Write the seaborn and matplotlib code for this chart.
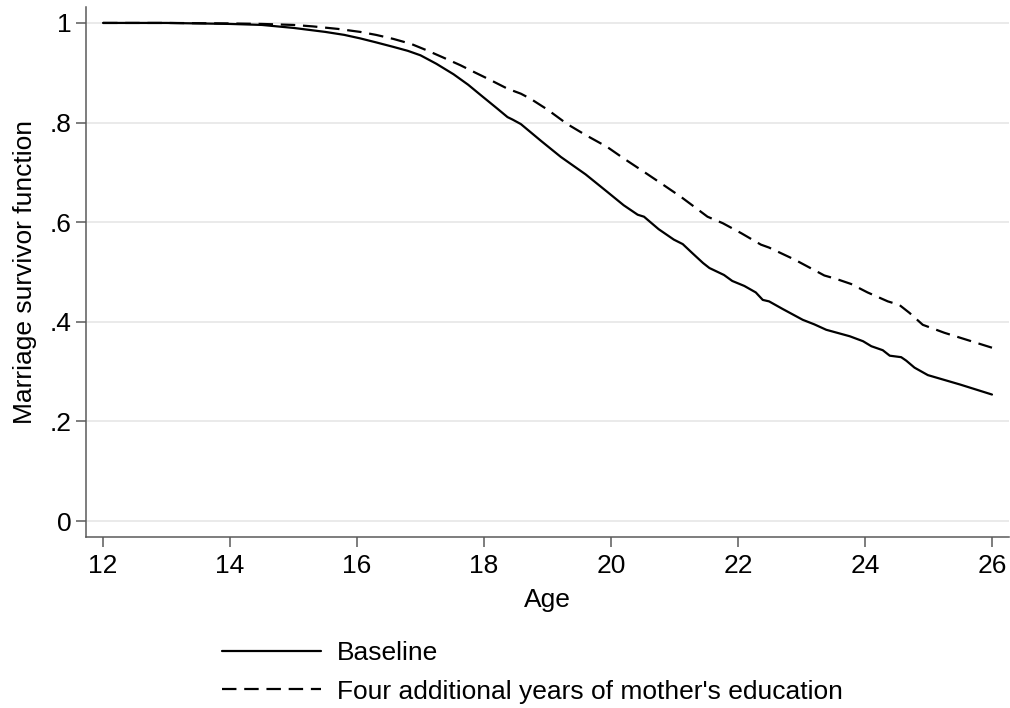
import matplotlib
matplotlib.use("Agg")
import matplotlib.pyplot as plt
import seaborn as sns
import pandas as pd
from matplotlib.lines import Line2D

# ---- data ----
age_base = [12, 13, 14, 14.5, 15, 15.5, 15.8, 16.05, 16.3, 16.57, 16.8, 17.0, 17.25, 17.52,
            17.75, 17.95, 18.2, 18.37, 18.45, 18.58, 18.9, 19.21, 19.6, 19.94, 20.2, 20.42,
            20.52, 20.75, 20.99, 21.13, 21.28, 21.45, 21.55, 21.78, 21.91, 22.1, 22.28, 22.39,
            22.49, 22.70, 23.02, 23.2, 23.39, 23.76, 23.97, 24.10, 24.28, 24.39, 24.57, 24.65,
            24.78, 24.99, 25.5, 26.0]
surv_base = [1.0, 1.0, 0.998, 0.996, 0.990, 0.982, 0.976, 0.969, 0.961, 0.952, 0.944, 0.935,
             0.918, 0.897, 0.876, 0.855, 0.829, 0.811, 0.806, 0.797, 0.763, 0.731, 0.696, 0.661,
             0.634, 0.615, 0.611, 0.586, 0.565, 0.556, 0.538, 0.518, 0.508, 0.494, 0.482, 0.472,
             0.459, 0.444, 0.441, 0.426, 0.404, 0.395, 0.384, 0.371, 0.361, 0.351, 0.343, 0.332,
             0.329, 0.322, 0.308, 0.293, 0.274, 0.254]

age_mom = [12, 13, 14, 14.5, 15, 15.31, 15.7, 16.05, 16.3, 16.57, 16.85, 17.1, 17.35, 17.63,
           17.85, 18.06, 18.37, 18.58, 18.73, 19.0, 19.31, 19.6, 19.94, 20.2, 20.52, 20.8,
           21.10, 21.3, 21.52, 21.76, 22.05, 22.36, 22.49, 22.89, 23.36, 23.55, 23.78, 24.04,
           24.36, 24.54, 24.7, 24.91, 25.25, 25.6, 26.0]
surv_mom = [1.0, 1.0, 0.999, 0.998, 0.996, 0.993, 0.988, 0.982, 0.976, 0.968, 0.958, 0.945,
            0.931, 0.915, 0.901, 0.888, 0.868, 0.858, 0.848, 0.826, 0.797, 0.775, 0.751, 0.728,
            0.701, 0.677, 0.651, 0.632, 0.611, 0.598, 0.578, 0.555, 0.549, 0.525, 0.493, 0.486,
            0.476, 0.459, 0.441, 0.434, 0.418, 0.394, 0.378, 0.364, 0.348]

series_labels = ["Baseline", "Four additional years of mother's education"]
x_ticks = [12, 14, 16, 18, 20, 22, 24, 26]
y_ticks = [0, 0.2, 0.4, 0.6, 0.8, 1.0]
y_tick_labels = ["0", ".2", ".4", ".6", ".8", "1"]

# ---- style ----
sns.set_theme(style="white")
plt.rcParams["font.family"] = ["Liberation Sans", "DejaVu Sans"]
plt.rcParams["text.color"] = "black"
plt.rcParams["axes.labelcolor"] = "black"
FS = 19

df = pd.concat([
    pd.DataFrame({"age": age_base, "surv": surv_base, "group": series_labels[0]}),
    pd.DataFrame({"age": age_mom, "surv": surv_mom, "group": series_labels[1]}),
])

fig = plt.figure(figsize=(10.1, 7.08), dpi=100)
ax = fig.add_axes([86 / 1010, 1 - 537 / 708, (1009 - 86) / 1010, (537 - 7) / 708])

dash_pat = (6.5, 3.5)
sns.lineplot(data=df, x="age", y="surv", style="group", color="black",
             dashes={series_labels[0]: "", series_labels[1]: dash_pat},
             linewidth=1.6, legend=False, ax=ax, estimator=None, sort=False)

ax.set_xlim(11.732, 26.268)
ax.set_ylim(-0.032, 1.032)
ax.set_xticks(x_ticks)
ax.set_xticklabels([str(t) for t in x_ticks], fontsize=FS, color="black")
ax.set_yticks(y_ticks)
ax.set_yticklabels(y_tick_labels, fontsize=FS, color="black")
ax.yaxis.grid(True, color="#e8e8e8", linewidth=1.3)
ax.set_axisbelow(True)
for s in ["top", "right"]:
    ax.spines[s].set_visible(False)
for s in ["left", "bottom"]:
    ax.spines[s].set_color("#5a5a5a")
    ax.spines[s].set_linewidth(1.1)
ax.tick_params(axis="x", which="major", direction="out", length=7.5, width=1.1,
               color="#5a5a5a", labelcolor="black", pad=5, bottom=True)
ax.tick_params(axis="y", which="major", direction="out", length=7.5, width=1.1,
               color="#5a5a5a", labelcolor="black", pad=3, left=True)
ax.set_xlabel("Age", fontsize=FS, labelpad=7)
ax.set_ylabel("Marriage survivor function", fontsize=FS, labelpad=9)

handles = [Line2D([], [], color="black", linewidth=1.6),
           Line2D([], [], color="black", linewidth=1.6, dashes=dash_pat)]
fig.legend(handles, series_labels, loc="upper left", bbox_to_anchor=(222 / 1010, 1 - 641 / 708),
           frameon=False, fontsize=FS, handlelength=3.75, handletextpad=0.62,
           labelspacing=0.55, borderpad=0, borderaxespad=0)

fig.savefig("out.png", dpi=100)
